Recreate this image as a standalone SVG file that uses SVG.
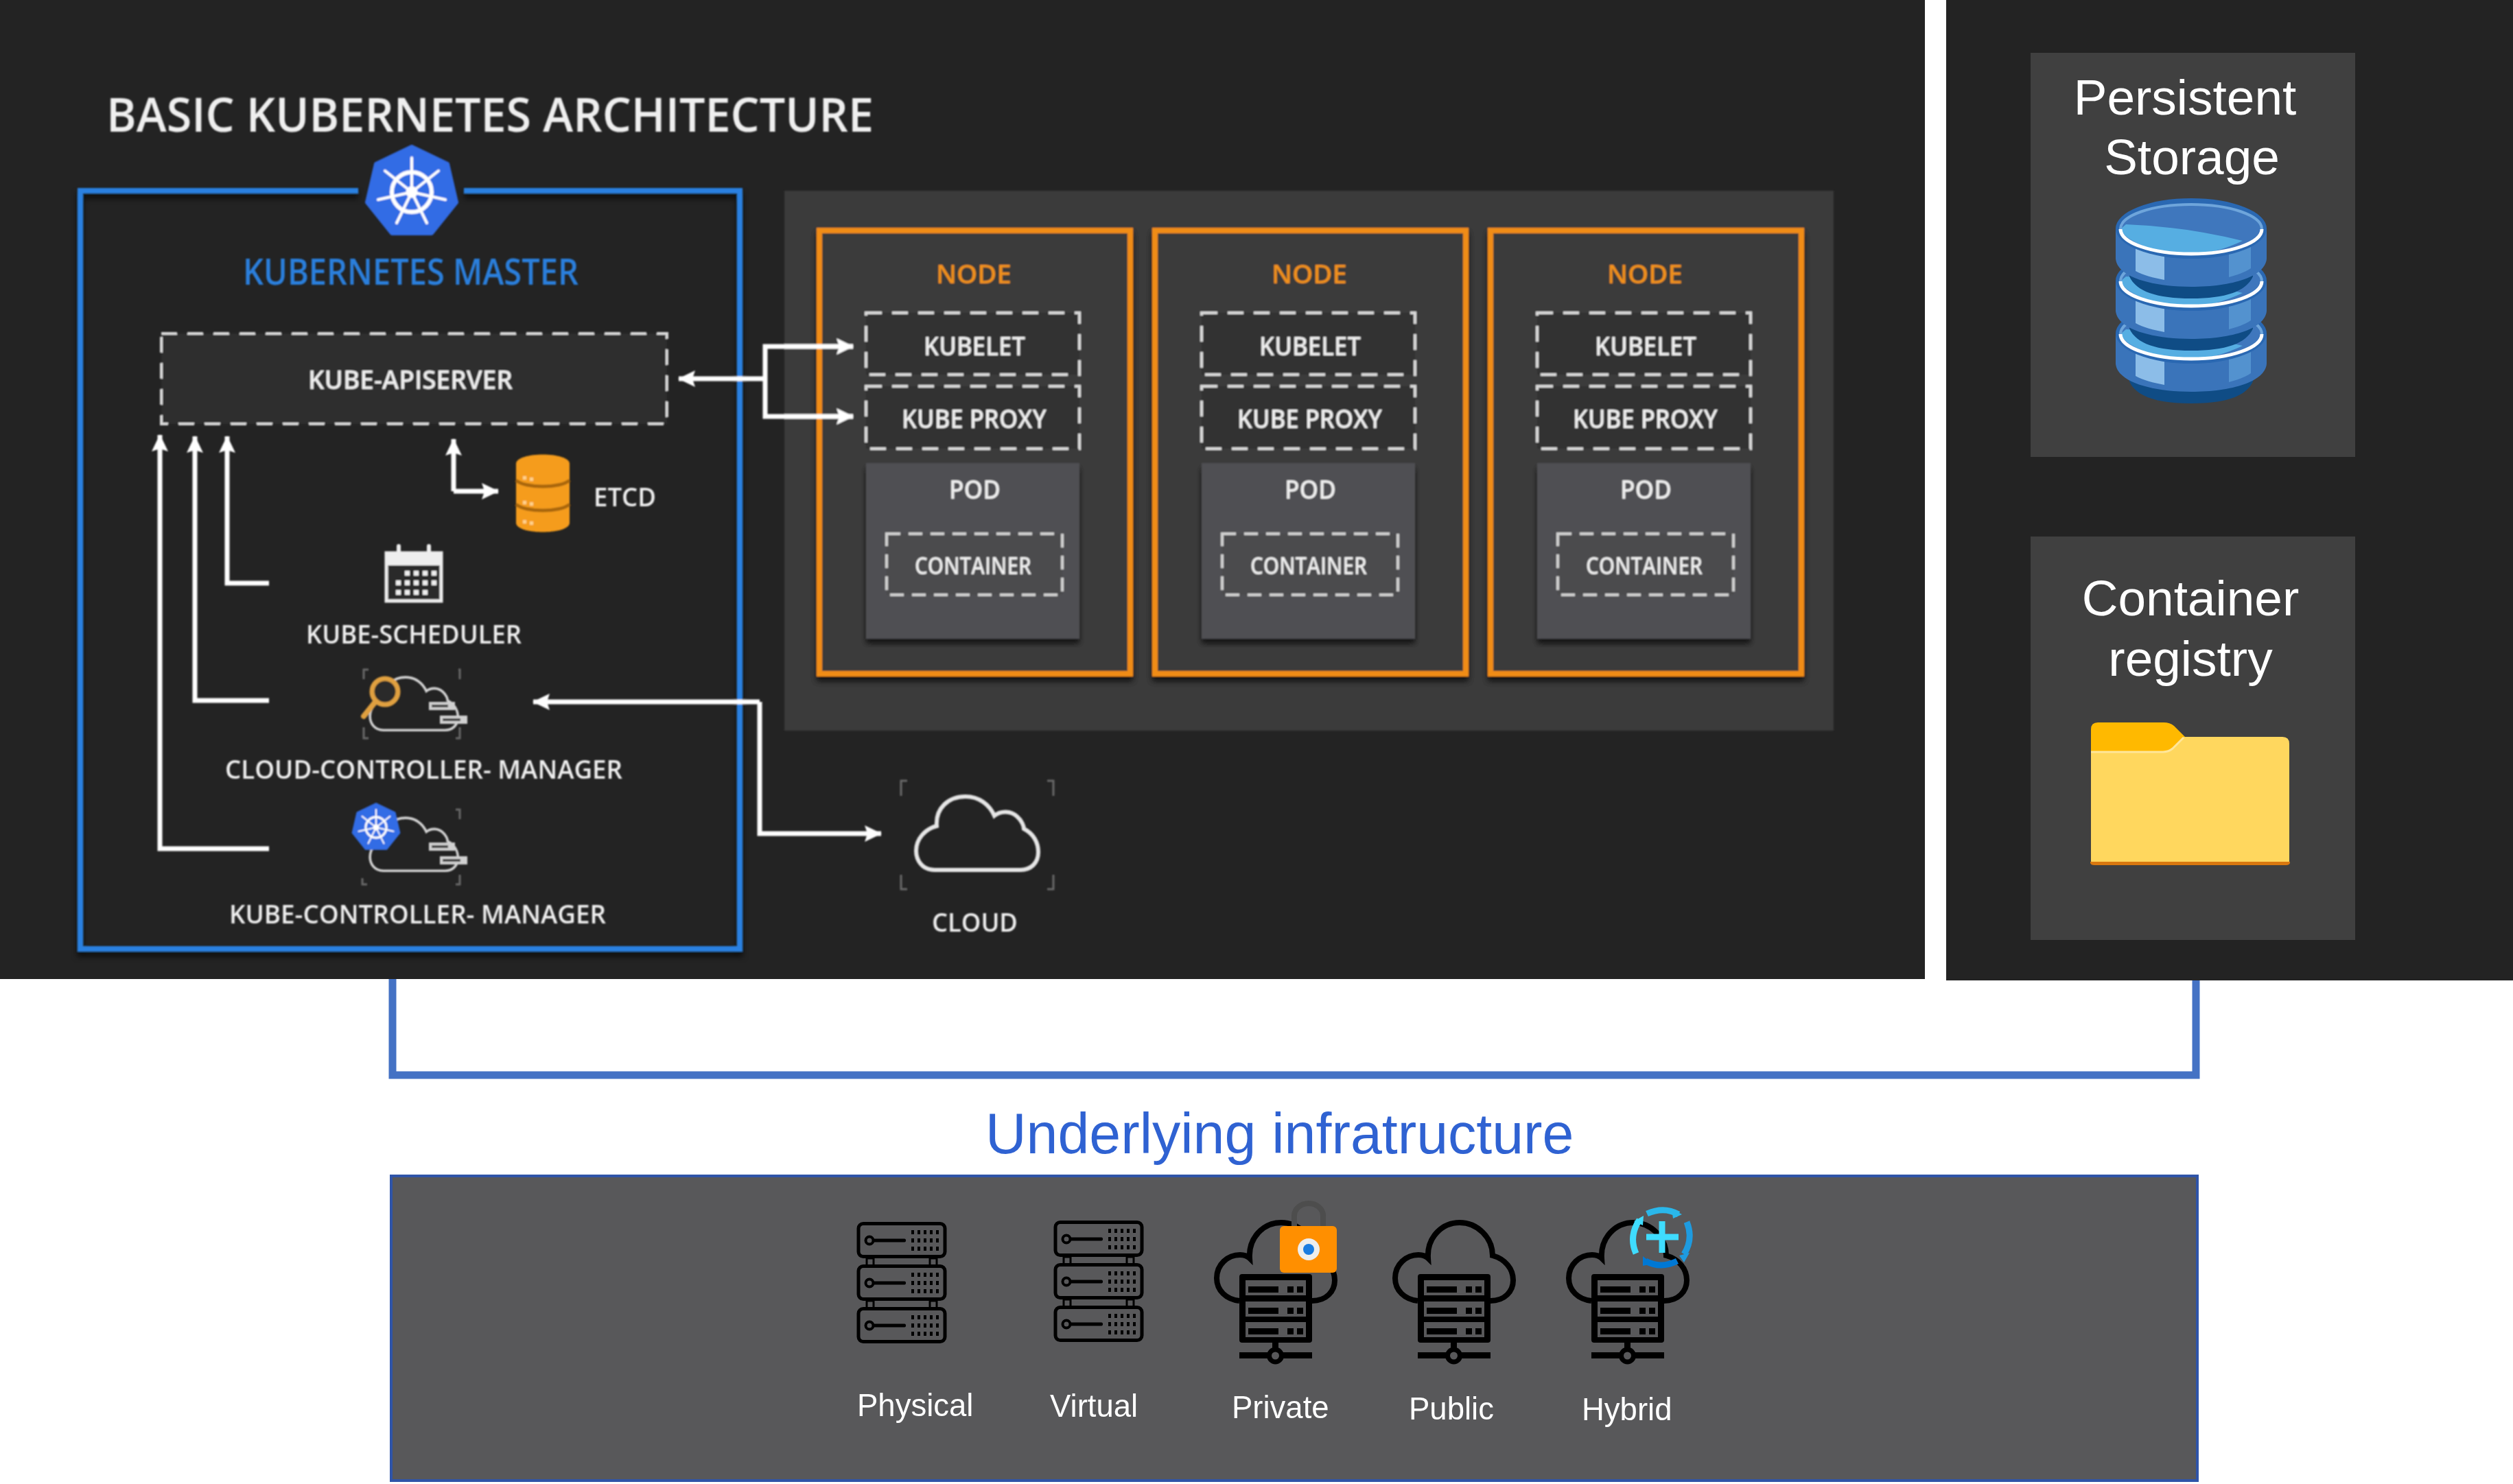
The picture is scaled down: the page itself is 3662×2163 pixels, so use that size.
<svg xmlns="http://www.w3.org/2000/svg" width="3662" height="2163" viewBox="0 0 3662 2163">
<style>
.o{font-family:"Open Sans","Liberation Sans",sans-serif;fill:#efefef;font-size:38px;font-weight:600}
.or{fill:#f0901c}
.a{font-family:"Liberation Sans",Arial,sans-serif;fill:#fff}
.big{font-size:73px;text-anchor:middle}
.lab{font-size:45.5px}
.dash{fill:#333;stroke:#d8d8d8;stroke-width:4;stroke-dasharray:23 15}
.dash2{fill:#4b4b4d;stroke:#cfcfcf;stroke-width:4;stroke-dasharray:20 12}
.conn{fill:none;stroke:#fff;stroke-width:7;stroke-linejoin:miter}
.ar{marker-end:url(#ah)}
.b{fill:#000}
.win{fill:#58585a}
.ln{fill:none;stroke:#000;stroke-width:8}
.gl{fill:none;stroke:#d4d4d4;stroke-width:5}
.br{fill:none;stroke:#6a6a6a;stroke-width:3}
.nodebox{fill:#3a3a3a;stroke:#f08c12;stroke-width:8;filter:url(#sh)}
.pod{fill:#505052;filter:url(#sh)}
</style>
<defs>
<filter id="soft" x="-5%" y="-5%" width="110%" height="110%"><feGaussianBlur stdDeviation="0.9"/></filter>
<filter id="sh" x="-5%" y="-5%" width="110%" height="110%"><feDropShadow dx="0" dy="7" stdDeviation="4" flood-color="#000" flood-opacity=".7"/></filter>
<marker id="ah" markerUnits="userSpaceOnUse" markerWidth="26" markerHeight="26" viewBox="0 0 26 26" refX="24" refY="13" orient="auto"><path d="M0 1L25 13L0 25L4 13Z" fill="#fff"/></marker>
<g id="k8s">
<path d="M0 -66L52 -41L65 15L29 60L-29 60L-65 15L-52 -41Z" fill="#326ce5" stroke="#326ce5" stroke-width="6" stroke-linejoin="round"/>
<g fill="none" stroke="#fff" stroke-linecap="round">
<circle r="29" stroke-width="6"/>
<circle r="6" stroke-width="5"/>
<path stroke-width="4" d="M0 0V-50M0 0L39 -31M0 0L49 11M0 0L22 45M0 0L-22 45M0 0L-49 11M0 0L-39 -31"/>
</g>
</g>
<path id="cloudshape" d="M30 110C12 110 3 96 3 82C3 65 16 50 33 46C31 20 50 3 75 3C95 3 110 15 117 31C127 23 141 24 150 32C157 38 160 46 160 50C174 57 181 70 181 84C181 100 170 110 155 110Z"/>
<g id="cloudmini">
<use href="#cloudshape" class="gl" transform="scale(.72)"/>
<g fill="#d0d0d0"><rect x="88" y="38" width="38" height="12"/><rect x="104" y="58" width="40" height="12"/></g>
<g fill="#3c3c3c"><rect x="92" y="42" width="24" height="4"/><rect x="108" y="62" width="26" height="4"/></g>
</g>
<g id="unit">
<rect x="3" y="2.500" width="126" height="48" rx="7" class="win" stroke="#000" stroke-width="5"/>
<circle cx="19" cy="27" r="5.500" class="win" stroke="#000" stroke-width="4"/>
<rect x="24" y="24.500" width="48" height="5" rx="2" class="b"/>
<g class="b">
<rect x="80" y="12" width="4" height="6"/><rect x="89" y="12" width="4" height="6"/><rect x="98" y="12" width="4" height="6"/><rect x="107" y="12" width="4" height="6"/><rect x="116" y="12" width="4" height="6"/>
<rect x="80" y="24" width="4" height="6"/><rect x="89" y="24" width="4" height="6"/><rect x="98" y="24" width="4" height="6"/><rect x="107" y="24" width="4" height="6"/><rect x="116" y="24" width="4" height="6"/>
<rect x="80" y="36" width="4" height="6"/><rect x="89" y="36" width="4" height="6"/><rect x="98" y="36" width="4" height="6"/><rect x="107" y="36" width="4" height="6"/><rect x="116" y="36" width="4" height="6"/>
</g>
</g>
<g id="rack">
<g fill="none" stroke="#000" stroke-width="3"><rect x="15" y="53" width="10" height="11"/><rect x="107" y="53" width="10" height="11"/><rect x="15" y="115" width="10" height="11"/><rect x="107" y="115" width="10" height="11"/></g>
<use href="#unit"/><use href="#unit" y="62"/><use href="#unit" y="124"/>
</g>
<g id="srow"><rect x="46" y="0" width="88" height="22" class="win"/><rect x="50" y="9" width="44" height="9" class="b"/><rect x="107" y="9" width="9" height="9" class="b"/><rect x="121" y="9" width="9" height="9" class="b"/></g>
<g id="cloudserver">
<path class="ln" d="M37 118C18 116 4 103 4 85C4 65 20 51 38 51C43 51 48 52 52 56C50 26 72 4 98 4C124 4 146 26 146 52C164 57 176 71 176 88C176 104 164 118 143 118"/>
<rect x="37" y="79" width="106" height="100" rx="4" class="b"/>
<use href="#srow" y="88"/><use href="#srow" y="119"/><use href="#srow" y="149"/>
<rect x="85" y="179" width="9" height="12" class="b"/>
<rect x="37" y="193" width="106" height="9" class="b"/>
<circle cx="89.500" cy="198" r="9" class="win" stroke="#000" stroke-width="7"/>
</g>
<g id="disc">
<path d="M20 20V70C30 92 60 102 110 102S190 92 200 70V20Z" fill="#0f4c85"/>
<path d="M0 0V44C2 70 50 85 110 85S218 70 220 44V0Z" fill="#3a74ba"/>
<path d="M29 0H71V75C55 72 40 68 29 62Z" fill="#8cbde8"/>
<path d="M165 0H197V58C188 64 176 68 165 71Z" fill="#5392cf"/>
<ellipse cx="110" cy="0" rx="110" ry="44" fill="#2a68b2"/>
<ellipse cx="110" cy="1" rx="103" ry="36" fill="#3f77bd"/>
<path d="M15 -6Q100 -3 185 18Q145 37 110 37C60 37 15 20 7 1Z" fill="#56aee2"/>
<path d="M7 1C7 -19 53 -35 110 -35S213 -19 213 1" fill="none" stroke="#6ea5db" stroke-width="4"/>
<path d="M7 1C7 21 53 37 110 37S213 21 213 1" fill="none" stroke="#fff" stroke-width="5"/>
</g>
</defs>
<rect width="3662" height="2163" fill="#fff"/>
<rect id="main-panel" width="2805" height="1427" fill="#232323"/>
<rect id="side-panel" x="2836" width="826" height="1429" fill="#232323"/>

<g filter="url(#soft)">
<text id="title" class="o" x="155" y="192" style="font-size:68px" textLength="1118" lengthAdjust="spacingAndGlyphs">BASIC KUBERNETES ARCHITECTURE</text>

<g id="master">
<path d="M522 278H117V1383H1078V278H676" fill="none" stroke="#2a80e0" stroke-width="8" filter="url(#sh)"/>
<use href="#k8s" x="600" y="280"/>
<text class="o" x="354" y="415" style="font-size:53px;fill:#2a7fdc" textLength="489" lengthAdjust="spacingAndGlyphs">KUBERNETES MASTER</text>
</g>
<g id="kube-apiserver">
<rect class="dash" x="235" y="486" width="737" height="132" style="fill:#2f2f2f"/>
<text class="o" x="449" y="567" textLength="298" lengthAdjust="spacingAndGlyphs">KUBE-APISERVER</text>
</g>
<g id="etcd">
<path d="M752 676C752 658 830 658 830 676V762C830 780 752 780 752 762Z" fill="#f59c1d"/>
<path d="M752 700C765 712 817 712 830 700M752 735C765 747 817 747 830 735" fill="none" stroke="#a9660f" stroke-width="5"/>
<g fill="#ffd18a"><rect x="762" y="694" width="5" height="5"/><rect x="772" y="696" width="5" height="5"/><rect x="762" y="730" width="5" height="5"/><rect x="772" y="732" width="5" height="5"/><rect x="762" y="758" width="5" height="5"/><rect x="772" y="760" width="5" height="5"/></g>
<text class="o" x="865" y="738" textLength="91" lengthAdjust="spacingAndGlyphs">ETCD</text>
</g>
<g id="kube-scheduler">
<rect x="563" y="806" width="80" height="70" fill="#2a2a2a" stroke="#eee" stroke-width="5"/>
<rect x="563" y="806" width="80" height="18" fill="#eee"/>
<rect x="578" y="793" width="6" height="18" rx="3" fill="#eee"/><rect x="622" y="793" width="6" height="18" rx="3" fill="#eee"/>
<g fill="#eee"><rect x="590" y="832" width="7" height="7"/><rect x="603" y="832" width="7" height="7"/><rect x="616" y="832" width="7" height="7"/><rect x="629" y="832" width="7" height="7"/><rect x="577" y="846" width="7" height="7"/><rect x="590" y="846" width="7" height="7"/><rect x="603" y="846" width="7" height="7"/><rect x="616" y="846" width="7" height="7"/><rect x="629" y="846" width="7" height="7"/><rect x="577" y="860" width="7" height="7"/><rect x="590" y="860" width="7" height="7"/><rect x="603" y="860" width="7" height="7"/><rect x="616" y="860" width="7" height="7"/></g>
<text class="o" x="446" y="938" textLength="314" lengthAdjust="spacingAndGlyphs">KUBE-SCHEDULER</text>
</g>
<g id="cloud-controller-manager">
<path class="br" d="M537 976H530V990M668 976H670V990M530 1060V1076H537M670 1060V1076H664"/>
<use href="#cloudmini" transform="translate(537 985)"/>
<circle cx="561" cy="1008" r="19" fill="#2a2a2a" stroke="#e0a040" stroke-width="7"/>
<path d="M546 1024L530 1044" stroke="#e0a040" stroke-width="8" stroke-linecap="round"/>
<text class="o" x="328" y="1135" textLength="579" lengthAdjust="spacingAndGlyphs">CLOUD-CONTROLLER- MANAGER</text>
</g>
<g id="kube-controller-manager">
<path class="br" d="M664 1180H670V1194M528 1280V1289H535M670 1275V1289H664"/>
<use href="#cloudmini" transform="translate(537 1190)"/>
<use href="#k8s" transform="translate(548 1206) scale(.52)"/>
<text class="o" x="334" y="1346" textLength="549" lengthAdjust="spacingAndGlyphs">KUBE-CONTROLLER- MANAGER</text>
</g>
<g id="cloud">
<path class="br" d="M1322 1138H1313V1160M1526 1138H1535V1160M1313 1275V1296H1322M1535 1275V1296H1526"/>
<use href="#cloudshape" transform="translate(1332 1158)" fill="none" stroke="#e6e6e6" stroke-width="6"/>
<text class="o" x="1358" y="1358" textLength="125" lengthAdjust="spacingAndGlyphs">CLOUD</text>
</g>

<rect id="cluster-panel" x="1143" y="278" width="1529" height="787" fill="#3a3a3a"/>

<g id="node-1">
<rect class="nodebox" x="1194" y="336" width="453" height="646"/>
<text class="o or" x="1364" y="413" textLength="110" lengthAdjust="spacingAndGlyphs">NODE</text>
<rect class="dash" x="1262" y="456" width="311" height="90"/>
<text class="o" x="1346" y="518" textLength="148" lengthAdjust="spacingAndGlyphs">KUBELET</text>
<rect class="dash" x="1262" y="563" width="311" height="91"/>
<text class="o" x="1314" y="624" textLength="211" lengthAdjust="spacingAndGlyphs">KUBE PROXY</text>
<rect class="pod" x="1262" y="675" width="311" height="256"/>
<text class="o" x="1383" y="727" textLength="75" lengthAdjust="spacingAndGlyphs">POD</text>
<rect class="dash2" x="1292" y="778" width="256" height="89"/>
<text class="o" x="1333" y="837" style="font-size:34px" textLength="170" lengthAdjust="spacingAndGlyphs">CONTAINER</text>
</g>
<g id="node-2" transform="translate(489 0)">
<rect class="nodebox" x="1194" y="336" width="453" height="646"/>
<text class="o or" x="1364" y="413" textLength="110" lengthAdjust="spacingAndGlyphs">NODE</text>
<rect class="dash" x="1262" y="456" width="311" height="90"/>
<text class="o" x="1346" y="518" textLength="148" lengthAdjust="spacingAndGlyphs">KUBELET</text>
<rect class="dash" x="1262" y="563" width="311" height="91"/>
<text class="o" x="1314" y="624" textLength="211" lengthAdjust="spacingAndGlyphs">KUBE PROXY</text>
<rect class="pod" x="1262" y="675" width="311" height="256"/>
<text class="o" x="1383" y="727" textLength="75" lengthAdjust="spacingAndGlyphs">POD</text>
<rect class="dash2" x="1292" y="778" width="256" height="89"/>
<text class="o" x="1333" y="837" style="font-size:34px" textLength="170" lengthAdjust="spacingAndGlyphs">CONTAINER</text>
</g>
<g id="node-3" transform="translate(978 0)">
<rect class="nodebox" x="1194" y="336" width="453" height="646"/>
<text class="o or" x="1364" y="413" textLength="110" lengthAdjust="spacingAndGlyphs">NODE</text>
<rect class="dash" x="1262" y="456" width="311" height="90"/>
<text class="o" x="1346" y="518" textLength="148" lengthAdjust="spacingAndGlyphs">KUBELET</text>
<rect class="dash" x="1262" y="563" width="311" height="91"/>
<text class="o" x="1314" y="624" textLength="211" lengthAdjust="spacingAndGlyphs">KUBE PROXY</text>
<rect class="pod" x="1262" y="675" width="311" height="256"/>
<text class="o" x="1383" y="727" textLength="75" lengthAdjust="spacingAndGlyphs">POD</text>
<rect class="dash2" x="1292" y="778" width="256" height="89"/>
<text class="o" x="1333" y="837" style="font-size:34px" textLength="170" lengthAdjust="spacingAndGlyphs">CONTAINER</text>
</g>

<g id="connectors">
<path class="conn ar" d="M1115 552V505H1243"/>
<path class="conn ar" d="M1115 552V607H1243"/>
<path class="conn ar" d="M1115 552H989"/>
<path class="conn ar" d="M392 850H331V636"/>
<path class="conn ar" d="M392 1021H284V636"/>
<path class="conn ar" d="M392 1237H233V634"/>
<path class="conn ar" d="M661 716V640"/>
<path class="conn ar" d="M661 716H726"/>
<path class="conn ar" d="M1107 1023H777"/>
<path class="conn ar" d="M1107 1023V1215H1284"/>
</g>
</g>

<path id="bracket" d="M572 1427V1567H3200V1429" fill="none" stroke="#4472c4" stroke-width="11"/>

<g id="persistent-storage">
<rect x="2959" y="77" width="473" height="589" fill="#404040"/>
<text class="a big" x="3184" y="167">Persistent</text>
<text class="a big" x="3194" y="254">Storage</text>
<use href="#disc" x="3083" y="486"/>
<use href="#disc" x="3083" y="409"/>
<use href="#disc" x="3083" y="333"/>
</g>
<g id="container-registry">
<rect x="2959" y="782" width="473" height="588" fill="#404040"/>
<text class="a big" x="3192" y="897">Container</text>
<text class="a big" x="3192" y="985">registry</text>
<path d="M3047 1096V1063Q3047 1053 3057 1053H3153Q3162 1053 3168 1058L3184 1074H3200V1096Z" fill="#ffb900"/>
<path d="M3047 1096H3152Q3160 1096 3166 1091L3182 1074H3326Q3336 1074 3336 1084V1255Q3336 1260 3331 1260H3052Q3047 1260 3047 1255Z" fill="#ffd75e"/>
<path d="M3047 1096H3152Q3160 1096 3166 1091L3182 1075" fill="none" stroke="#ffe69a" stroke-width="3"/>
<path d="M3047 1257H3336V1257Q3336 1260 3331 1260H3052Q3047 1260 3047 1257Z" fill="#d9780f" stroke="#d9780f" stroke-width="2"/>
</g>

<text id="underlying-label" class="a" x="1436" y="1681" style="font-size:82.500px;fill:#2f62d2">Underlying infratructure</text>

<g id="infrastructure">
<rect x="570" y="1714" width="2632" height="444" fill="#58585a" stroke="#2f54a8" stroke-width="4"/>
<g id="physical"><use href="#rack" x="1248" y="1781"/><text class="a lab" x="1249" y="2064">Physical</text></g>
<g id="virtual"><use href="#rack" x="1535" y="1779"/><text class="a lab" x="1530" y="2065">Virtual</text></g>
<g id="private">
<use href="#cloudserver" transform="translate(1769 1778)"/>
<path d="M1886 1787V1772A21 18 0 0 1 1928 1772V1787" fill="none" stroke="#4d4d4d" stroke-width="8"/>
<rect x="1865" y="1787" width="83" height="68" rx="6" fill="#ff8f00"/>
<circle cx="1907" cy="1821" r="16" fill="#eee"/><circle cx="1907" cy="1821" r="8" fill="#1b7ce0"/>
<text class="a lab" x="1795" y="2067">Private</text>
</g>
<g id="public"><use href="#cloudserver" transform="translate(2029 1778)"/><text class="a lab" x="2053" y="2069">Public</text></g>
<g id="hybrid">
<use href="#cloudserver" transform="translate(2282 1778)"/>
<g fill="none" stroke-width="9">
<path d="M2400 1769Q2425 1758 2446 1770" stroke="#2ab7ea"/>
<path d="M2458 1781Q2468 1806 2454 1828" stroke="#1e9be0"/>
<path d="M2444 1838Q2420 1850 2398 1838" stroke="#0078d4"/>
<path d="M2384 1827Q2373 1802 2389 1778" stroke="#3fdcff"/>
</g>
<path d="M2436 1762L2451 1770L2438 1776Z" fill="#2ab7ea"/>
<path d="M2447 1830L2462 1826L2454 1840Z" fill="#1e9be0"/>
<path d="M2394 1831L2394 1845L2408 1842Z" fill="#0078d4"/>
<path d="M2381 1780L2395 1772L2394 1786Z" fill="#3fdcff"/>
<path d="M2399 1803H2446M2422 1780V1826" stroke="#3fdcff" stroke-width="9" fill="none"/>
<text class="a lab" x="2305" y="2070">Hybrid</text>
</g>
</g>
</svg>
